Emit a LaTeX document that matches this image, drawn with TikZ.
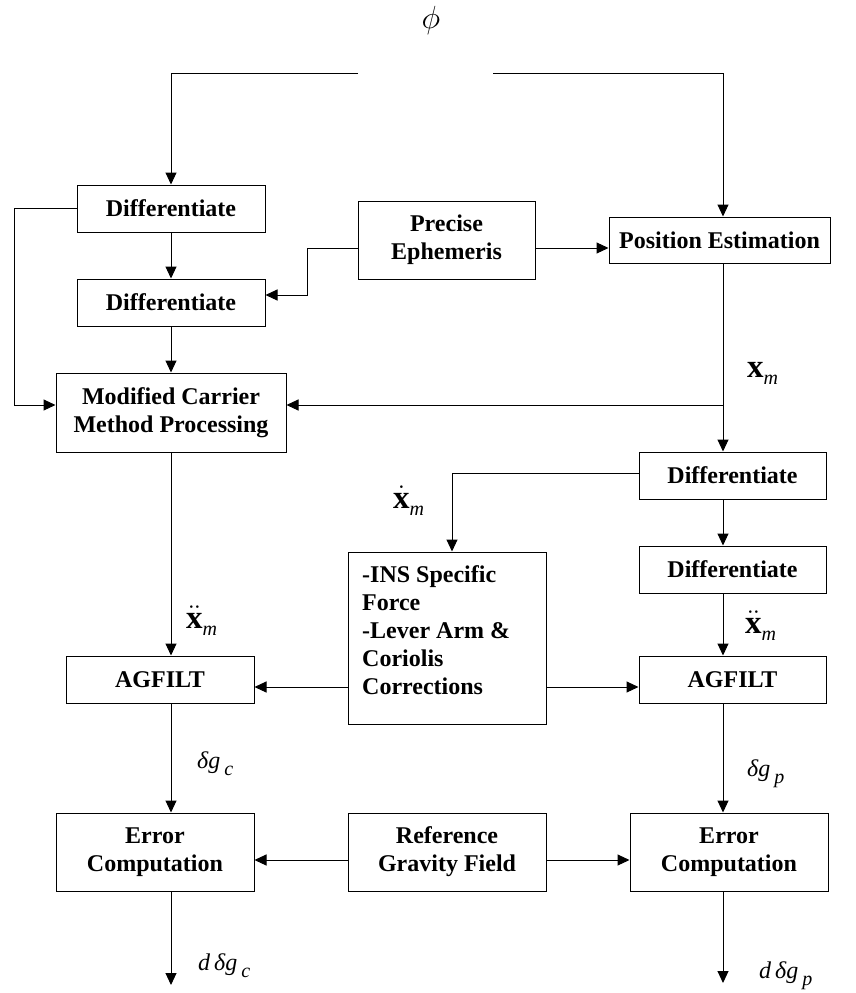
\RequirePackage{fix-cm}
\documentclass[tikz,border=0pt]{standalone}
\usepackage{fontspec}
\setmainfont{Liberation Serif}
\usetikzlibrary{arrows.meta}
\newcommand\lblx{{\fontsize{33}{33}\selectfont\bfseries x}}
\newcommand\lblsub[1]{\raisebox{-7pt}{\fontsize{20}{20}\selectfont\itshape #1}}
\begin{document}
\begin{tikzpicture}[x=1pt,y=-1pt,
  box/.style={draw, line width=1pt, inner sep=0pt, font=\fontsize{24}{28}\selectfont\bfseries, align=center},
  conn/.style={line width=1pt, -{Triangle[length=12pt,width=11pt]}},
  lbl/.style={inner sep=0pt, anchor=base west},
  glbl/.style={inner sep=0pt, anchor=base west, font=\fontsize{24}{24}\selectfont\itshape}]
\useasboundingbox (0,0) rectangle (855,993);

% boxes
\node[box, minimum width=188pt, minimum height=47pt] (diffA) at (171,208.5) {Differentiate};
\node[box, minimum width=188pt, minimum height=47pt] (diffB) at (171,302.5) {Differentiate};
\node[box, minimum width=230pt, minimum height=79pt] (mcp) at (171,412.5) {Modified Carrier\\Method Processing};
\node[box, minimum width=177pt, minimum height=78pt] (eph) at (446.5,240) {Precise\\Ephemeris};
\node[box, minimum width=221pt, minimum height=46pt] (pos) at (719.5,240) {Position Estimation};
\node[box, minimum width=187pt, minimum height=47pt] (diffC) at (732.5,475.5) {Differentiate};
\node[box, minimum width=187pt, minimum height=47pt] (diffD) at (732.5,569.5) {Differentiate};
\node[box, minimum width=198pt, minimum height=172pt] (ins) at (447,638) {};
\node[inner sep=0pt, anchor=north west, align=left, font=\fontsize{24}{28}\selectfont\bfseries] (insText) at (362,565) {-INS Specific\\Force\\-Lever Arm \&\\Coriolis\\Corrections};
\node[box, minimum width=188pt, minimum height=47pt] (agfL) at (160,679.5) {AGFILT};
\node[box, minimum width=187pt, minimum height=47pt] (agfR) at (732.5,679.5) {AGFILT};
\node[box, minimum width=198pt, minimum height=78pt] (errL) at (155,852) {Error\\Computation};
\node[box, minimum width=198pt, minimum height=78pt] (ref) at (447,852) {Reference\\Gravity Field};
\node[box, minimum width=198pt, minimum height=78pt] (errR) at (729,852) {Error\\Computation};

% helper coordinates
\coordinate (tl) at (358,73);
\coordinate (tr) at (493,73);
\coordinate (vx) at (723,0);
\coordinate (lx) at (14,0);
\coordinate (cx) at (171,0);
\coordinate (ex) at (307,0);
\coordinate (ix) at (452,0);
\coordinate (fb) at (0,405);
\coordinate (ey) at (0,248);
\coordinate (by) at (0,295);
\coordinate (cy) at (0,473);
\coordinate (ay) at (0,687);
\coordinate (ry) at (0,860);
\coordinate (oL) at (171,985);
\coordinate (oR) at (723,983);

% connectors
\draw[conn] (tl) -| (diffA.north -| cx);
\draw[conn] (tr) -| (pos.north -| vx);
\draw[conn] (diffA.south -| cx) -- (diffB.north -| cx);
\draw[conn] (diffB.south -| cx) -- (mcp.north -| cx);
\draw[conn] (diffA.west) -- (diffA.west -| lx) -- (lx |- fb) -- (mcp.west |- fb);
\draw[conn] (eph.west |- ey) -- (ex |- ey) -- (ex |- by) -- (diffB.east |- by);
\draw[conn] (eph.east |- ey) -- (pos.west |- ey);
\draw[conn] (pos.south -| vx) -- (diffC.north -| vx);
\draw[conn] (vx |- fb) -- (mcp.east |- fb);
\draw[conn] (diffC.west |- cy) -- (ix |- cy) -- (ins.north -| ix);
\draw[conn] (diffC.south -| vx) -- (diffD.north -| vx);
\draw[conn] (diffD.south -| vx) -- (agfR.north -| vx);
\draw[conn] (mcp.south -| cx) -- (agfL.north -| cx);
\draw[conn] (ins.west |- ay) -- (agfL.east |- ay);
\draw[conn] (ins.east |- ay) -- (agfR.west |- ay);
\draw[conn] (agfL.south -| cx) -- (errL.north -| cx);
\draw[conn] (agfR.south -| vx) -- (errR.north -| vx);
\draw[conn] (ref.west |- ry) -- (errL.east |- ry);
\draw[conn] (ref.east |- ry) -- (errR.west |- ry);
\draw[conn] (errL.south -| cx) -- (oL);
\draw[conn] (errR.south -| vx) -- (oR);

% labels
\node[inner sep=0pt] (phi) at (431,20.5) {\fontsize{32}{32}\selectfont$\phi$};
\node[lbl] (xm) at (747,377) {\lblx\lblsub{m}};
\node[lbl, font=\fontsize{33}{33}\selectfont] (xdm) at (393,508) {$\dot{\mbox{\lblx}}$\lblsub{m}};
\node[lbl, font=\fontsize{33}{33}\selectfont] (xddL) at (186,628) {$\ddot{\mbox{\lblx}}$\lblsub{m}};
\node[lbl, font=\fontsize{33}{33}\selectfont] (xddR) at (745,633) {$\ddot{\mbox{\lblx}}$\lblsub{m}};
\node[glbl] (dgc) at (197,768) {δg\,\lblsub{c}};
\node[glbl] (dgp) at (747,776) {δg\,\lblsub{p}};
\node[glbl] (ddgc) at (198,970) {d\,δg\,\lblsub{c}};
\node[glbl] (ddgp) at (759,978) {d\,δg\,\lblsub{p}};
\end{tikzpicture}
\end{document}
